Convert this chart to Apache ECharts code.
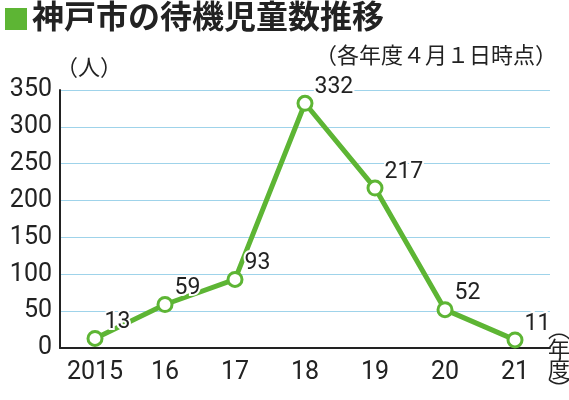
<!DOCTYPE html>
<html>
<head>
<meta charset="utf-8">
<script src="https://cdn.jsdelivr.net/npm/echarts@6/dist/echarts.min.js"></script>
<style>
  html, body { margin: 0; padding: 0; background: #fff; }
  #chart { width: 569px; height: 400px; }
</style>
</head>
<body>
<div id="chart"></div>
<script>
const years = ['2015', '16', '17', '18', '19', '20', '21'];
const waiting = [13, 59, 93, 332, 217, 52, 11];

const JP = '"Noto Sans CJK JP", sans-serif';
const NUM = '"Liberation Sans Narrow", "Roboto", sans-serif';
const green = '#5db534';

const chart = echarts.init(document.getElementById('chart'));
chart.setOption({
    animation: false,
    graphic: [
        { type: 'rect', shape: { x: 5, y: 8, width: 22, height: 22 }, style: { fill: green } },
        { type: 'text', left: 32, top: 0, style: { text: '神戸市の待機児童数推移', font: 'bold 32px ' + JP, fill: '#222' } },
        { type: 'text', right: 12, top: 44, style: { text: '（各年度４月１日時点）', font: '22px ' + JP, fill: '#222' } },
        { type: 'text', left: 56, top: 56, style: { text: '（人）', font: '22px ' + JP, fill: '#222' } },
        { type: 'text', left: 548, top: 318, style: { text: '︵\n年\n度\n︶', font: '22px ' + JP, fill: '#222', lineHeight: 20 } }
    ],
    grid: { left: 60, right: 19, top: 90, bottom: 52 },
    xAxis: {
        type: 'category',
        data: years,
        boundaryGap: true,
        axisLine: { lineStyle: { color: '#222', width: 2 } },
        axisTick: { show: false },
        axisLabel: { interval: 0, color: '#222', fontSize: 25, fontFamily: NUM, margin: 12 }
    },
    yAxis: {
        type: 'value',
        min: 0, max: 350, interval: 50,
        axisLine: { show: true, lineStyle: { color: '#222', width: 2 } },
        axisTick: { show: false },
        axisLabel: { color: '#222', fontSize: 25, fontFamily: NUM, margin: 8 },
        splitLine: { lineStyle: { color: '#9fd3ea', width: 1 } }
    },
    series: [{
        type: 'line',
        data: waiting,
        lineStyle: { color: green, width: 5 },
        itemStyle: { color: '#fff', borderColor: green, borderWidth: 3 },
        symbol: 'circle',
        symbolSize: 14,
        label: {
            show: true,
            position: 'right',
            offset: [-4, -16],
            color: '#222',
            fontSize: 23,
            fontFamily: NUM,
            textBorderColor: '#fff',
            textBorderWidth: 4
        }
    }]
});
</script>
</body>
</html>
